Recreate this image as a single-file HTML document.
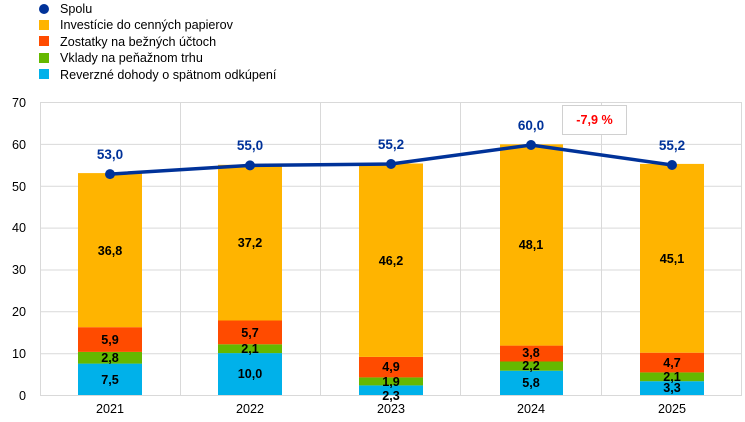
<!DOCTYPE html>
<html><head><meta charset="utf-8"><style>body{margin:0;background:#fff}svg{display:block}text{font-family:"Liberation Sans",sans-serif}</style></head><body>
<svg width="745" height="422" viewBox="0 0 745 422">
<g font-size="12.6" fill="#000">
<circle cx="44" cy="9" r="5" fill="#003299"/><text x="60" y="13">Spolu</text>
<rect x="39" y="20" width="10" height="10" fill="#FFB400"/><text x="60" y="29">Investície do cenných papierov</text>
<rect x="39" y="36" width="10" height="10" fill="#FF4B00"/><text x="60" y="46">Zostatky na bežných účtoch</text>
<rect x="39" y="53" width="10" height="10" fill="#65B800"/><text x="60" y="62">Vklady na peňažnom trhu</text>
<rect x="39" y="69" width="10" height="10" fill="#00B1EA"/><text x="60" y="79">Reverzné dohody o spätnom odkúpení</text>
</g>
<g stroke="#d9d9d9" stroke-width="1">
<line x1="40" y1="102.5" x2="742" y2="102.5"/><line x1="40" y1="144.4" x2="742" y2="144.4"/><line x1="40" y1="186.3" x2="742" y2="186.3"/><line x1="40" y1="228.1" x2="742" y2="228.1"/><line x1="40" y1="270" x2="742" y2="270"/><line x1="40" y1="311.8" x2="742" y2="311.8"/><line x1="40" y1="353.7" x2="742" y2="353.7"/><line x1="40" y1="395.5" x2="742" y2="395.5"/>
<line x1="40.5" y1="102" x2="40.5" y2="396"/><line x1="180.5" y1="102" x2="180.5" y2="396"/><line x1="320.5" y1="102" x2="320.5" y2="396"/><line x1="460.5" y1="102" x2="460.5" y2="396"/><line x1="601.5" y1="102" x2="601.5" y2="396"/><line x1="741.5" y1="102" x2="741.5" y2="396"/>
</g>
<g font-size="12.6" text-anchor="end" fill="#000">
<text x="26" y="107">70</text><text x="26" y="149">60</text><text x="26" y="191">50</text><text x="26" y="232">40</text><text x="26" y="274">30</text><text x="26" y="316">20</text><text x="26" y="358">10</text><text x="26" y="400">0</text>
</g>
<g font-size="12.6" text-anchor="middle" fill="#000">
<text x="110" y="413">2021</text><text x="250" y="413">2022</text><text x="391" y="413">2023</text><text x="531" y="413">2024</text><text x="672" y="413">2025</text>
</g>
<g>
<rect x="78" y="363.6" width="64" height="31.4" fill="#00B1EA"/><rect x="78" y="351.9" width="64" height="11.7" fill="#65B800"/><rect x="78" y="327.2" width="64" height="24.7" fill="#FF4B00"/><rect x="78" y="173.1" width="64" height="154.1" fill="#FFB400"/>
<rect x="218" y="353.1" width="64" height="41.9" fill="#00B1EA"/><rect x="218" y="344.3" width="64" height="8.8" fill="#65B800"/><rect x="218" y="320.5" width="64" height="23.8" fill="#FF4B00"/><rect x="218" y="164.8" width="64" height="155.7" fill="#FFB400"/>
<rect x="359" y="385.4" width="64" height="9.6" fill="#00B1EA"/><rect x="359" y="377.4" width="64" height="8" fill="#65B800"/><rect x="359" y="356.9" width="64" height="20.5" fill="#FF4B00"/><rect x="359" y="163.5" width="64" height="193.4" fill="#FFB400"/>
<rect x="500" y="370.7" width="63" height="24.3" fill="#00B1EA"/><rect x="500" y="361.5" width="63" height="9.2" fill="#65B800"/><rect x="500" y="345.6" width="63" height="15.9" fill="#FF4B00"/><rect x="500" y="144.3" width="63" height="201.3" fill="#FFB400"/>
<rect x="640" y="381.2" width="64" height="13.8" fill="#00B1EA"/><rect x="640" y="372.4" width="64" height="8.8" fill="#65B800"/><rect x="640" y="352.7" width="64" height="19.7" fill="#FF4B00"/><rect x="640" y="163.9" width="64" height="188.8" fill="#FFB400"/>
</g>
<g font-size="12.6" font-weight="bold" text-anchor="middle" fill="#000">
<text x="110" y="384">7,5</text><text x="110" y="362">2,8</text><text x="110" y="344">5,9</text><text x="110" y="255">36,8</text>
<text x="250" y="378">10,0</text><text x="250" y="353">2,1</text><text x="250" y="337">5,7</text><text x="250" y="247">37,2</text>
<text x="391" y="400">2,3</text><text x="391" y="386">1,9</text><text x="391" y="371">4,9</text><text x="391" y="265">46,2</text>
<text x="531" y="387">5,8</text><text x="531" y="370">2,2</text><text x="531" y="357">3,8</text><text x="531" y="249">48,1</text>
<text x="672" y="392">3,3</text><text x="672" y="381">2,1</text><text x="672" y="367">4,7</text><text x="672" y="263">45,1</text>
</g>
<polyline points="110,174.1 250,165.4 391,164 531,145 672,165" fill="none" stroke="#003299" stroke-width="3.5"/>
<g fill="#003299"><circle cx="110" cy="174.1" r="5"/><circle cx="250" cy="165.4" r="5"/><circle cx="391" cy="164" r="5"/><circle cx="531" cy="145" r="5"/><circle cx="672" cy="165" r="5"/></g>
<g font-size="13.5" font-weight="bold" text-anchor="middle" fill="#003299">
<text x="110" y="159">53,0</text><text x="250" y="150">55,0</text><text x="391" y="149">55,2</text><text x="531" y="130">60,0</text><text x="672" y="150">55,2</text>
</g>
<rect x="562.5" y="105.5" width="64" height="29" fill="#fff" stroke="#d0d0d0"/>
<text x="594.5" y="124" font-size="12.6" font-weight="bold" text-anchor="middle" fill="#FF0000">-7,9 %</text>
</svg>
</body></html>
